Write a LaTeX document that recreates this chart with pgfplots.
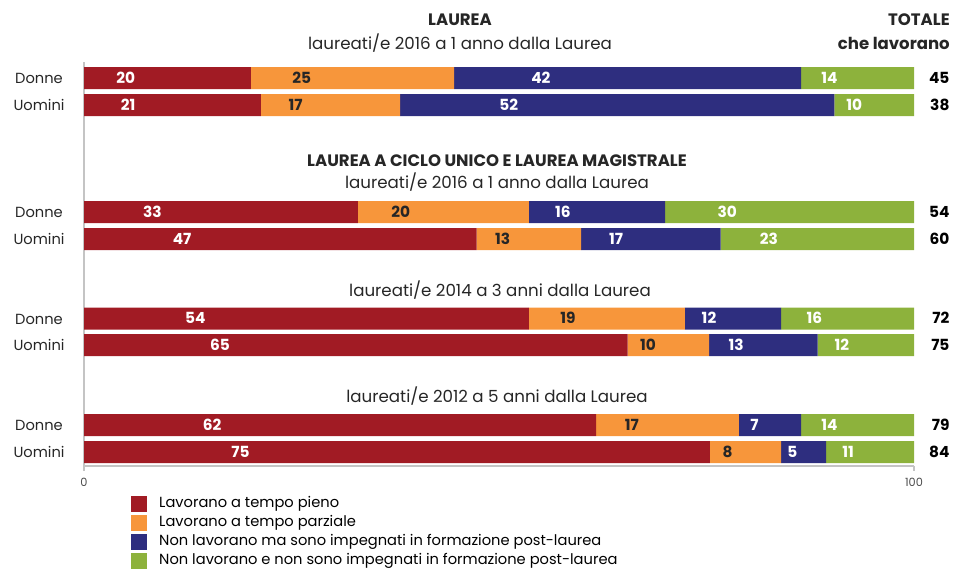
\documentclass[border=0pt]{standalone}
\usepackage{pgfplots}
\pgfplotsset{compat=1.18}
\usepackage{fontspec}
\setmainfont{Poppins}
\definecolor{cRed}{HTML}{A11B24}
\definecolor{cOrange}{HTML}{F7963B}
\definecolor{cNavy}{HTML}{2E2E7F}
\definecolor{cGreen}{HTML}{8DB23C}
\definecolor{cDark}{HTML}{262626}
\definecolor{cAxis}{HTML}{C4C4C4}
\newcommand{\txt}{\fontsize{12.5}{14}\selectfont}
\newcommand{\btxt}{\bfseries\fontsize{12.4}{14}\selectfont}
\newcommand{\legtxt}{\fontsize{11}{13}\selectfont}
\newcommand{\lbl}{\bfseries\fontsize{11.5}{13}\selectfont}
\begin{document}
\begin{tikzpicture}
\begin{scope}[x=0.75pt,y=-0.75pt]
\useasboundingbox (0,0) rectangle (955,566);
\end{scope}
\begin{axis}[
  at={(63pt,-349.5pt)}, anchor=south west,
  scale only axis, width=622.5pt, height=303pt,
  xmin=0, xmax=100, ymin=-466, ymax=-62,
  xbar stacked, bar width=22,
  axis x line*=bottom, axis y line*=left,
  axis line style={draw=cAxis, line width=1pt},
  xtick={0,100}, ytick=\empty,
  tick align=outside, major tick length=3.75pt,
  tick style={draw=cAxis, line width=0.8pt},
  xticklabel style={font=\fontsize{8.5}{10}\selectfont, text=black!70, yshift=-2pt},
  /pgf/number format/assume math mode=true,
  point meta=explicit,
  nodes near coords,
  visualization depends on={rawx \as \rawx},
  every node near coord/.append style={anchor=center, inner sep=0pt,
     text height=8pt, text depth=0pt,
     shift={(axis direction cs:-\rawx/4,0)}, font=\lbl, text=white},
  legend style={at={(rel axis cs:0.0566,-0.0735)}, anchor=north west,
     draw=none, fill=none, inner sep=0pt, row sep=2.25pt,
     font=\legtxt,
     nodes={inner sep=0pt, text height=9pt, text depth=3pt, anchor=west},
     cells={anchor=west}},
  legend image code/.code={\fill[#1] (0pt,-6pt) rectangle (12pt,6pt); \path (21pt,0pt);},
  legend cell align=left,
]
\addplot[fill=cRed, draw=none] coordinates {
 (20.1,-78)[20] (21.3,-105)[21] (33.0,-212)[33] (47.3,-239)[47]
 (53.6,-318.5)[54] (65.5,-345)[65] (61.7,-425)[62] (75.4,-452)[75]};
\addlegendentry{Lavorano a tempo pieno}
\addplot[fill=cOrange, draw=none, every node near coord/.append style={text=cDark}] coordinates {
 (24.5,-78)[25] (16.8,-105)[17] (20.6,-212)[20] (12.6,-239)[13]
 (18.8,-318.5)[19] (9.8,-345)[10] (17.2,-425)[17] (8.6,-452)[8]};
\addlegendentry{Lavorano a tempo parziale}
\addplot[fill=cNavy, draw=none] coordinates {
 (41.8,-78)[42] (52.3,-105)[52] (16.4,-212)[16] (16.8,-239)[17]
 (11.6,-318.5)[12] (13.1,-345)[13] (7.5,-425)[7] (5.4,-452)[5]};
\addlegendentry{Non lavorano ma sono impegnati in formazione post-laurea}
\addplot[fill=cGreen, draw=none] coordinates {
 (13.6,-78)[14] (9.6,-105)[10] (30.0,-212)[30] (23.3,-239)[23]
 (16.0,-318.5)[16] (11.6,-345)[12] (13.6,-425)[14] (10.6,-452)[11]};
\addlegendentry{Non lavorano e non sono impegnati in formazione post-laurea}
\end{axis}
\begin{axis}[
  at={(63pt,-349.5pt)}, anchor=south west,
  scale only axis, width=622.5pt, height=303pt,
  xmin=0, xmax=100, ymin=-466, ymax=-62,
  hide axis, clip=false,
]
\addplot[draw=none, nodes near coords, point meta=explicit symbolic,
  every node near coord/.append style={anchor=east, inner sep=0pt,
     text height=8pt, text depth=0pt, font=\lbl, text=black}] coordinates {
 (104.3,-78)[45] (104.3,-105)[38] (104.3,-212)[54] (104.3,-239)[60]
 (104.3,-318.5)[72] (104.3,-345)[75] (104.3,-425)[79] (104.3,-452)[84]};
\end{axis}
\begin{scope}[x=0.75pt,y=-0.75pt, every node/.style={inner sep=0pt, text height=8.5pt, text depth=0pt, font=\txt, text=cDark}]
\node[font=\btxt] at (460,20) {LAUREA};
\node at (460,44) {laureati/e 2016 a 1 anno dalla Laurea};
\node[anchor=east, font=\btxt] at (950,20) {TOTALE};
\node[anchor=east, font=\btxt] at (950,44) {che lavorano};
\node[font=\btxt] at (497,161) {LAUREA A CICLO UNICO E LAUREA MAGISTRALE};
\node at (497,183) {laureati/e 2016 a 1 anno dalla Laurea};
\node at (500,291) {laureati/e 2014 a 3 anni dalla Laurea};
\node at (497,397) {laureati/e 2012 a 5 anni dalla Laurea};
\foreach \y in {78,212,318.5,425} {\node[font=\legtxt] at (39,\y) {Donne};}
\foreach \y in {105,239,345,452} {\node[font=\legtxt] at (39,\y) {Uomini};}
\end{scope}
\end{tikzpicture}
\end{document}
